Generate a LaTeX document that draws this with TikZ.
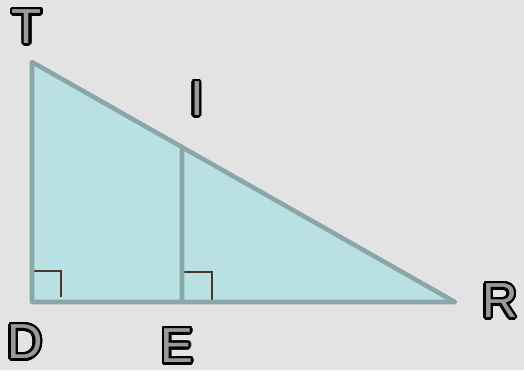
\documentclass[tikz,border=0pt]{standalone}
\usepackage{fontspec}
\setmainfont{Liberation Sans}
\usepackage{contour}
\contourlength{1.4pt}
\contournumber{24}
\usepackage{tikz}
\usetikzlibrary{calc}

\definecolor{bgcol}{HTML}{E3E3E3}
\definecolor{fillcol}{HTML}{B9E0E3}
\definecolor{edgecol}{HTML}{8AA6A8}
\definecolor{markcol}{HTML}{4A3526}
\definecolor{lettercol}{HTML}{9A9A9A}

\tikzset{
	letter/.style={font=\fontsize{28}{28}\selectfont, inner sep=0pt},
	rightmark/.style={draw=markcol, line width=0.7pt}
}
\newcommand{\outl}[1]{\contour{black}{\textcolor{lettercol}{#1}}}

\begin{document}
\begin{tikzpicture}[x=0.02cm,y=-0.02cm]

		\fill [bgcol] (0,0) rectangle (524,370) ;
		\useasboundingbox (0,0) rectangle (524,370) ;
		\coordinate (T) at (32,62) ;
		\coordinate (D) at (32,302) ;
		\coordinate (R) at (455,302) ;
		\coordinate (E) at (182,302) ;
		\coordinate (I) at ($(T)!0.3546!(R)$) ;

		\fill [fillcol] (T) -- (D) -- (R) -- cycle ;
		
		\draw [rightmark] ($(D)+(0,-31)$) -- ++(29,0) -- ++(0,26) ;
		\draw [rightmark] ($(E)+(0,-30)$) -- ++(30,0) -- ++(0,32) ;

		\draw [edgecol, line width=2.6pt, line join=round] (T) -- (D) -- (R) -- cycle ;
		\draw [edgecol, line width=2.6pt] (E) -- (I) ;

		\node [letter] (lT) at (27,28) {\outl{T}} ;
		\node [letter] (lD) at (25,343) {\outl{D}} ;
		\node [letter] (lE) at (177,347) {\outl{E}} ;
		\node [letter] (lI) at (197,100) {\outl{I}} ;
		\node [letter] (lR) at (500,302) {\outl{R}} ;

\end{tikzpicture}
\end{document}
